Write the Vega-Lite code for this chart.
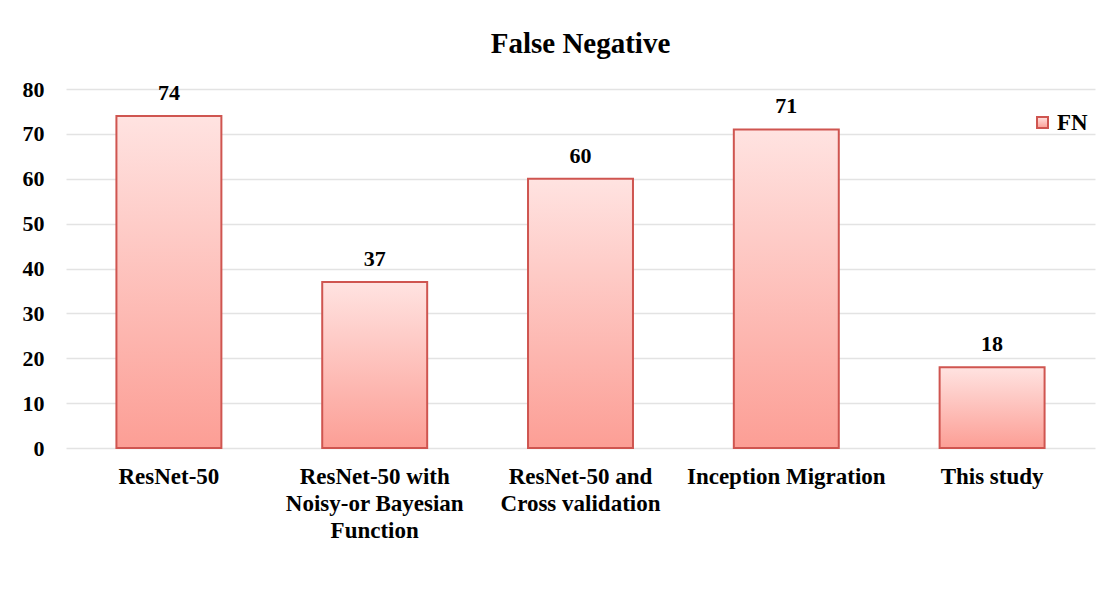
{
  "$schema": "https://vega.github.io/schema/vega-lite/v6.json",
  "width": 1029,
  "height": 359,
  "autosize": {"type": "none"},
  "padding": {"left": 66, "top": 89, "right": 21, "bottom": 161},
  "background": "white",
  "config": {
    "font": "Liberation Serif",
    "view": {"stroke": null}
  },
  "title": {
    "text": "False Negative",
    "font": "Liberation Serif",
    "fontSize": 29,
    "fontWeight": "bold",
    "color": "#000000",
    "anchor": "middle",
    "offset": 19
  },
  "data": {
    "values": [
      {"model": "ResNet-50", "series": "FN", "value": 74},
      {"model": "ResNet-50 with Noisy-or Bayesian Function", "series": "FN", "value": 37},
      {"model": "ResNet-50 and Cross validation", "series": "FN", "value": 60},
      {"model": "Inception Migration", "series": "FN", "value": 71},
      {"model": "This study", "series": "FN", "value": 18}
    ]
  },
  "encoding": {
    "x": {
      "field": "model",
      "type": "nominal",
      "sort": null,
      "scale": {"paddingInner": 0.49, "paddingOuter": 0.245},
      "axis": {
        "title": null,
        "labelAngle": 0,
        "domain": false,
        "ticks": false,
        "labelFont": "Liberation Serif",
        "labelFontSize": 23,
        "labelFontWeight": "bold",
        "labelColor": "#000000",
        "labelPadding": 17,
        "labelLineHeight": 27,
        "labelLimit": 300,
        "labelExpr": "datum.value == 'ResNet-50 with Noisy-or Bayesian Function' ? ['ResNet-50 with', 'Noisy-or Bayesian', 'Function'] : datum.value == 'ResNet-50 and Cross validation' ? ['ResNet-50 and', 'Cross validation'] : datum.value"
      }
    },
    "y": {
      "field": "value",
      "type": "quantitative",
      "scale": {"domain": [0, 80]},
      "axis": {
        "title": null,
        "values": [0, 10, 20, 30, 40, 50, 60, 70, 80],
        "domain": false,
        "ticks": false,
        "grid": true,
        "gridColor": "#e3e3e3",
        "gridWidth": 1.5,
        "labelFont": "Liberation Serif",
        "labelFontSize": 22,
        "labelFontWeight": "bold",
        "labelColor": "#000000",
        "labelPadding": 22
      }
    }
  },
  "layer": [
    {
      "mark": {
        "type": "bar",
        "strokeWidth": 2,
        "fill": {
          "gradient": "linear",
          "x1": 0, "y1": 0, "x2": 0, "y2": 1,
          "stops": [
            {"offset": 0, "color": "#ffe3e1"},
            {"offset": 1, "color": "#fc9e95"}
          ]
        }
      },
      "encoding": {
        "stroke": {
          "field": "series",
          "type": "nominal",
          "scale": {"range": ["#cf5550"]},
          "legend": {
            "title": null,
            "orient": "none",
            "legendX": 965,
            "legendY": 22,
            "padding": 0,
            "symbolType": "square",
            "symbolSize": 121,
            "symbolFillColor": "#f9b3ad",
            "symbolStrokeWidth": 2,
            "labelFont": "Liberation Serif",
            "labelFontSize": 23,
            "labelFontWeight": "bold",
            "labelColor": "#000000",
            "labelOffset": 3
          }
        }
      }
    },
    {
      "mark": {
        "type": "text",
        "font": "Liberation Serif",
        "fontSize": 22,
        "fontWeight": "bold",
        "color": "#000000",
        "baseline": "alphabetic",
        "dy": -16
      },
      "encoding": {
        "text": {"field": "value", "type": "quantitative"}
      }
    }
  ]
}
